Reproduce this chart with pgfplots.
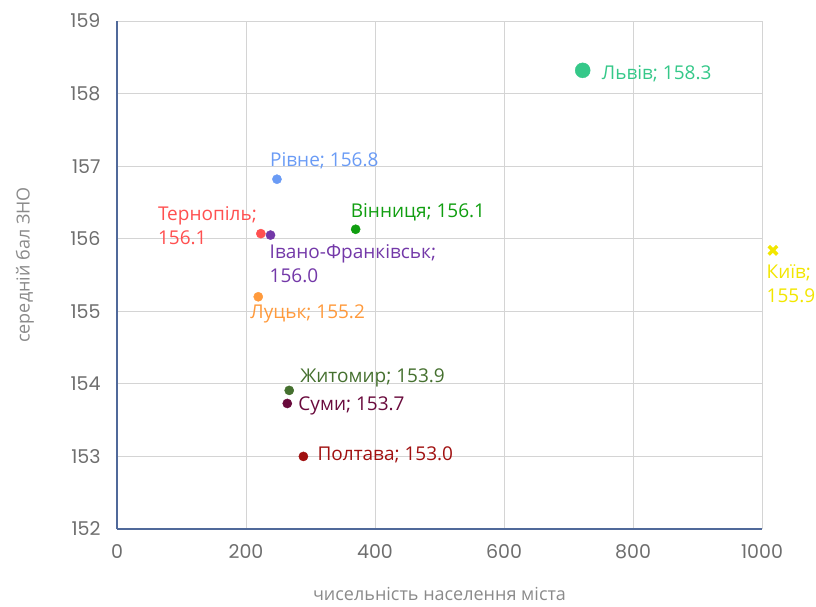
\documentclass[border=0pt]{standalone}
\usepackage{pgfplots}
\pgfplotsset{compat=1.18}
\usepackage{fontspec}
\setmainfont{Open Sans}
\newfontfamily\tickfont{Poppins}
\definecolor{gridgray}{HTML}{D4D4D4}
\definecolor{axisblue}{HTML}{50699A}
\definecolor{tickgray}{HTML}{6E6E6E}
\definecolor{labgray}{HTML}{8A8A8A}
\definecolor{clviv}{HTML}{35C889}
\definecolor{crivne}{HTML}{6A9BF5}
\definecolor{cternopil}{HTML}{FF5050}
\definecolor{civano}{HTML}{7338A8}
\definecolor{cvinnytsia}{HTML}{109E10}
\definecolor{clutsk}{HTML}{FF9A3C}
\definecolor{czhytomyr}{HTML}{45702F}
\definecolor{csumy}{HTML}{690A3C}
\definecolor{cpoltava}{HTML}{A01010}
\definecolor{ckyiv}{HTML}{F2E600}
\newcommand{\lbl}{\fontsize{19}{24}\selectfont}
\pgfplotsset{
  city/.style n args={5}{only marks, mark=*, mark size=4.6pt, color=#1,
    nodes near coords={#2},
    every node near coord/.append style={anchor=west, xshift=#3, yshift=#4,
      font=\lbl, text=#1, inner sep=0pt, align=left, #5}},
}
\begin{document}
\begin{tikzpicture}
\useasboundingbox (-117pt,-77pt) rectangle (699pt,529pt);
\begin{axis}[
  at={(0,0)}, anchor=south west,
  scale only axis, width=645pt, height=508pt,
  xmin=0, xmax=1000, ymin=152, ymax=159,
  xtick={0,200,...,1000}, ytick={152,153,...,159},
  grid=major, grid style={color=gridgray, line width=0.9pt},
  axis x line*=bottom, axis y line*=left,
  axis line style={color=axisblue, line width=1.3pt, -},
  major tick length=0pt, tick style={draw=none},
  /pgf/number format/1000 sep={},
  /pgf/number format/assume math mode=true,
  ticklabel style={font=\tickfont\fontsize{19}{19}\selectfont, text=tickgray},
  xticklabel style={anchor=north, yshift=-12pt},
  yticklabel style={anchor=east, xshift=-13pt},
  xlabel={чисельність населення міста},
  ylabel={середній бал ЗНО},
  label style={font=\fontsize{18}{18}\selectfont, text=labgray},
  xlabel style={at={(axis description cs:0.5,0)}, anchor=center, yshift=-65pt},
  ylabel style={at={(axis description cs:0,0.5)}, anchor=center, yshift=92pt, xshift=10pt},
  clip=false,
]
\addplot[city={clviv}{Львів; 158.3}{19pt}{-3pt}{}, mark size=7.5pt] coordinates {(722,158.32)};
\addplot[city={crivne}{Рівне; 156.8}{-7pt}{18pt}{}] coordinates {(248,156.82)};
\addplot[city={cternopil}{Тернопіль;\\156.1}{-103pt}{8pt}{}] coordinates {(223,156.07)};
\addplot[city={civano}{Івано-Франківськ;\\156.0}{-1pt}{-29pt}{}] coordinates {(238,156.05)};
\addplot[city={cvinnytsia}{Вінниця; 156.1}{-5pt}{17pt}{}] coordinates {(370,156.13)};
\addplot[city={clutsk}{Луцьк; 155.2}{-8pt}{-17pt}{}] coordinates {(219,155.20)};
\addplot[city={czhytomyr}{Житомир; 153.9}{11pt}{12pt}{}] coordinates {(267,153.91)};
\addplot[city={csumy}{Суми; 153.7}{11pt}{-2pt}{}] coordinates {(264,153.73)};
\addplot[city={cpoltava}{Полтава; 153.0}{14pt}{2pt}{}] coordinates {(289,153.00)};
\addplot[city={ckyiv}{Київ;\\155.9}{-8pt}{-33pt}{}, mark=x, mark size=6pt, line width=3.4pt] coordinates {(1017,155.84)};
\end{axis}
\end{tikzpicture}
\end{document}
